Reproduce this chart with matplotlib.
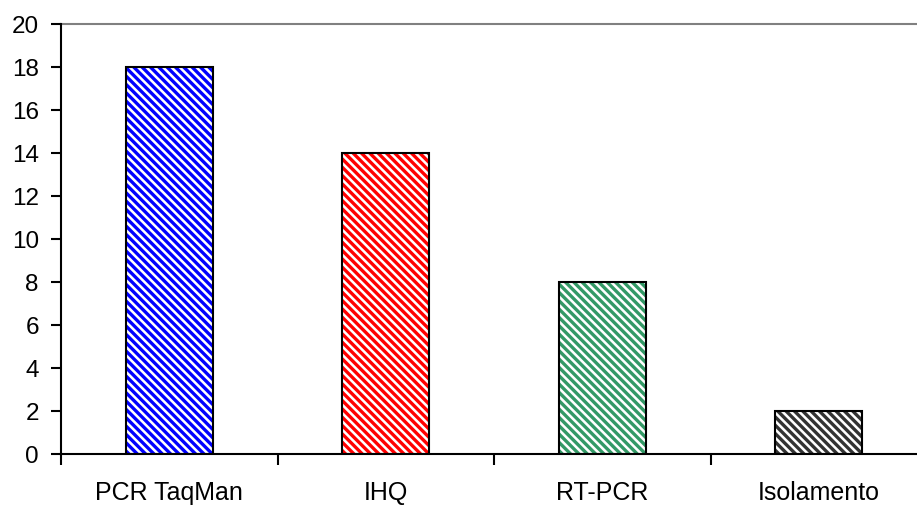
import matplotlib
matplotlib.use("Agg")
import matplotlib.pyplot as plt
import numpy as np

categories = ["PCR TaqMan", "IHQ", "RT-PCR", "Isolamento"]
values = [18, 14, 8, 2]
colors = ["#0000FF", "#FF0000", "#339966", "#333333"]
yticks = [0, 2, 4, 6, 8, 10, 12, 14, 16, 18, 20]

plt.rcParams["font.family"] = ["Liberation Sans", "DejaVu Sans"]
plt.rcParams["hatch.linewidth"] = 2.4

fig = plt.figure(figsize=(9.17, 5.06), dpi=100)
W, H = 917, 506
left_px, right_px, top_px, bottom_px = 61, 927, 25, 455
ax = fig.add_axes([left_px / W, (H - bottom_px) / H,
                   (right_px - left_px) / W, (bottom_px - top_px) / H])

x = np.arange(len(categories))
for xi, v, c in zip(x, values, colors):
    ax.bar(xi, v, width=0.40, facecolor="white", edgecolor=c,
           hatch="\\\\\\\\", linewidth=0, zorder=2)
    ax.bar(xi, v, width=0.40, facecolor="none", edgecolor="black",
           linewidth=1.5, zorder=3)

ax.set_xlim(-0.5, len(categories) - 0.5)
ax.set_ylim(0, 20)
ax.set_yticks(yticks)
ax.set_xticks(x)
ax.set_xticklabels(categories)
ax.set_xticks(np.arange(-0.5, len(categories), 1.0), minor=True)

ax.axhline(20, color="#808080", linewidth=1.5, zorder=1, clip_on=False)

for s in ["top", "right"]:
    ax.spines[s].set_visible(False)
for s in ["left", "bottom"]:
    ax.spines[s].set_linewidth(1.5)
    ax.spines[s].set_color("black")

ax.tick_params(axis="y", direction="out", length=7, width=1.5, labelsize=17.5, pad=9)
ax.tick_params(axis="x", which="major", length=0, labelsize=18, pad=19)
ax.tick_params(axis="x", which="minor", direction="out", length=8, width=1.5)

fig.savefig("out.png", dpi=100)
